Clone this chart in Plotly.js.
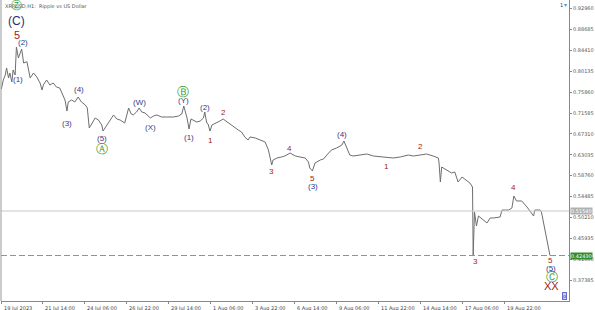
<!DOCTYPE html>
<html>
<head>
<meta charset="utf-8">
<script src="https://cdn.plot.ly/plotly-3.0.1.min.js"></script>
<style>html,body{margin:0;padding:0;background:#fff;}#chart{width:595px;height:310px;}</style>
</head>
<body>
<div id="chart"></div>
<script>
// ---- data (XRPUSD H1 closes; hours counted from 19 Jul 2023 00:00) ----
const closeHours = [0,3,6,8,11,13,16,18,21,23,26,28,31,34,39,44,49,54,59,62,64,69,74,79,84,89,95,97,100,102,107,112,117,122,128,131,134,138,143,148,153,155,161,166,171,176,181,188,194,198,201,206,210,214,219,227,232,237,244,252,262,270,275,278,283,286,289,292,298,303,308,310,313,315,318,321,328,333,338,346,354,361,366,371,376,379,387,394,402,407,409,412,414,420,427,432,440,448,455,463,468,470,474,478,486,491,496,503,511,519,522,526,531,536,547,557,567,577,587,597,608,620,628,638,648,658,666,667,669,671,679,686,691,696,702,709,714,718,719,721,724,727,732,735,740,745,750,760,763,768,773,778,781,785,793,801,808,811,813,821,823];
const closePrices = [0.7649,0.7834,0.7936,0.8079,0.7875,0.7977,0.7793,0.8038,0.7936,0.8509,0.8284,0.8345,0.8468,0.8181,0.8208,0.7875,0.7977,0.7895,0.7772,0.7629,0.7731,0.7834,0.7731,0.7772,0.7690,0.7670,0.7486,0.7424,0.7199,0.7384,0.7424,0.7384,0.7486,0.7384,0.7322,0.7261,0.6852,0.6954,0.7056,0.7015,0.6913,0.6790,0.6913,0.7015,0.7118,0.7036,0.7015,0.6954,0.7261,0.7138,0.7118,0.7179,0.7261,0.7179,0.7159,0.7056,0.7097,0.7118,0.7077,0.7077,0.7077,0.7097,0.7138,0.7302,0.7056,0.6831,0.7036,0.7015,0.6974,0.6995,0.7056,0.7179,0.6954,0.6934,0.6790,0.6913,0.6954,0.6995,0.7036,0.6954,0.6872,0.6811,0.6770,0.6668,0.6606,0.6668,0.6647,0.6606,0.6565,0.6402,0.6299,0.6095,0.6197,0.6238,0.6259,0.6279,0.6340,0.6279,0.6259,0.6238,0.6156,0.6034,0.5972,0.6136,0.6197,0.6218,0.6299,0.6402,0.6443,0.6504,0.6586,0.6463,0.6299,0.6279,0.6299,0.6320,0.6279,0.6269,0.6259,0.6238,0.6259,0.6299,0.6279,0.6299,0.6320,0.6279,0.6238,0.6136,0.5747,0.6054,0.5993,0.5931,0.5952,0.5747,0.5849,0.5788,0.5727,0.5645,0.4243,0.5133,0.4847,0.5052,0.4990,0.4970,0.4909,0.5011,0.5011,0.5031,0.5174,0.5174,0.5174,0.5215,0.5461,0.5359,0.5359,0.5236,0.5093,0.5052,0.5174,0.5174,0.5133];
// forecast line (wave 5 target)
const forecastHours = [823, 836];
const forecastPrices = [0.5133, 0.4243];
const targetLevel = 0.42430;
const currentPrice = 0.51540;

const xTickHours = [0,62,126,190,254,318,382,446,510,574,638,702,766];
const xTickText = ["19 Jul 2023","21 Jul 14:00","24 Jul 06:00","26 Jul 22:00","29 Jul 14:00","1 Aug 06:00","3 Aug 22:00","6 Aug 14:00","9 Aug 06:00","11 Aug 22:00","14 Aug 14:00","17 Aug 06:00","19 Aug 22:00"];
const yTicks = [0.92960,0.88685,0.84410,0.80135,0.75860,0.71585,0.67310,0.63035,0.58760,0.54485,0.50210,0.45935,0.41660,0.37385];

// wave labels: text, hour, price, kind
const waveText  = ["(C)","5","(2)","(1)","(4)","(3)","(5)","Ⓐ","(W)","(X)","Ⓑ","(Y)","(1)","(2)","1","2","3","4","5","(3)","(4)","1","2","3","4","5","(5)","Ⓒ","XX"];
const waveHour  = [23.4,24.4,32.6,25.9,118.4,99.6,153.9,153.9,210.3,226.6,277.3,277.3,286.5,310.4,318,338.3,412,438.8,474.5,474.5,518.7,586.2,639.1,722.9,780.2,837.2,838.1,839.1,838.7];
const wavePrice = [0.9040,0.8754,0.8597,0.7854,0.7643,0.6948,0.6627,0.6422,0.7369,0.6858,0.7594,0.7410,0.6661,0.7267,0.6606,0.7165,0.5958,0.6436,0.5823,0.5665,0.6723,0.6060,0.6471,0.4121,0.5631,0.4137,0.3982,0.3800,0.3626];
const waveKind  = ["navyBig","redBig","navy","navy","navy","navy","navy","green","navy","navy","green","navy","navy","navy","red","red","red","red","red","navy","navy","red","red","red","red","red","navy","green","redBig"];

// ---- build ----
const start = Date.UTC(2023,6,19,0,0,0);
function hToDate(h){
  const d = new Date(start + h*3600000);
  return d.toISOString().slice(0,19).replace('T',' ');
}
const styles = {
  navy:{color:'#38388a',size:8},
  navyBig:{color:'#2c2c78',size:12},
  red:{color:'#a02020',size:8},
  redBig:{color:'#a01c1c',size:11},
  green:{color:'#2f9a2f',size:12}
};

const traces = [
  {x: closeHours.map(hToDate), y: closePrices, type:'scatter', mode:'lines',
   line:{color:'#6e6e6e', width:1}, hoverinfo:'skip'},
  {x: forecastHours.map(hToDate), y: forecastPrices, type:'scatter', mode:'lines',
   line:{color:'#6e6e6e', width:1}, hoverinfo:'skip'}
];

const annotations = waveText.map((t,i)=>({
  x: hToDate(waveHour[i]), y: wavePrice[i], text: t, showarrow:false,
  xanchor:'center', yanchor:'middle',
  font:{family:'Liberation Sans, Arial, DejaVu Sans', size:styles[waveKind[i]].size, color:styles[waveKind[i]].color}
}));
// x-axis labels, drawn to the right of each tick as in the source chart
xTickHours.forEach((h,i)=>{
  annotations.push({x: hToDate(h), xref:'x', yref:'paper', y:0, xanchor:'left', yanchor:'top',
    xshift: 0.5, yshift:-1.5, text: xTickText[i], showarrow:false,
    font:{family:'DejaVu Sans', size:5, color:'#444'}});
});
// title
annotations.push({xref:'paper', yref:'paper', x:0.004, y:1, xanchor:'left', yanchor:'top', yshift:-1,
  text:'XRPUSD,H1:  Ripple vs US Dollar', showarrow:false,
  font:{family:'DejaVu Sans', size:5, color:'#555'}});
annotations.push({x: hToDate(23.4), y: 0.9350, text:'Ⓩ', showarrow:false, xanchor:'center', yanchor:'middle',
  font:{family:'DejaVu Sans', size:11, color:'#2f9a2f'}});
// price boxes on the axis
annotations.push({xref:'paper', x:1, xanchor:'left', xshift:1, y: currentPrice, yanchor:'middle',
  text: currentPrice.toFixed(5), showarrow:false, bgcolor:'#b0b0b0', borderpad:0,
  font:{family:'DejaVu Sans', size:5, color:'#fff'}});
annotations.push({xref:'paper', x:1, xanchor:'left', xshift:1, y: targetLevel, yanchor:'middle',
  text: targetLevel.toFixed(5), showarrow:false, bgcolor:'#2e8b2e', borderpad:0,
  font:{family:'DejaVu Sans', size:5, color:'#fff'}});
// small corner markers
annotations.push({xref:'paper', yref:'paper', x:0.986, y:0.985, xanchor:'center', yanchor:'middle',
  text:'1', showarrow:false, font:{family:'DejaVu Sans', size:5, color:'#333'}});
annotations.push({xref:'paper', yref:'paper', x:0.9935, y:0.985, xanchor:'center', yanchor:'middle',
  text:'▾', showarrow:false, font:{family:'DejaVu Sans', size:6, color:'#5a8fd8'}});
annotations.push({xref:'paper', yref:'paper', x:0.9925, y:0.016, xanchor:'center', yanchor:'middle',
  text:'o', showarrow:false, bgcolor:'#c8cdf0', bordercolor:'#6a6ad0', borderwidth:1, borderpad:0,
  font:{family:'DejaVu Sans', size:5, color:'#3030a0'}});

const shapes = [
  {type:'line', xref:'paper', x0:0, x1:1, yref:'y', y0:currentPrice, y1:currentPrice,
   line:{color:'#c9c9c9', width:1}},
  {type:'line', xref:'paper', x0:0, x1:1, yref:'y', y0:targetLevel, y1:targetLevel,
   line:{color:'#5cb85c', width:1, dash:'6px,3px'}},
  {type:'line', xref:'paper', yref:'paper', x0:0, x1:0, y0:0, y1:1, line:{color:'#999', width:1}}
];

const layout = {
  width:595, height:310,
  margin:{l:1, r:26, t:0, b:9, pad:0},
  paper_bgcolor:'#ffffff', plot_bgcolor:'#ffffff',
  showlegend:false,
  xaxis:{type:'date', range:[hToDate(-0.5), hToDate(865)],
    tickmode:'array', tickvals: xTickHours.map(hToDate), showticklabels:false,
    showgrid:false, zeroline:false, showline:true, linecolor:'#888', linewidth:1,
    ticks:'outside', ticklen:2, tickcolor:'#888', fixedrange:true},
  yaxis:{side:'right', range:[0.3313, 0.9470], tickmode:'array', tickvals:yTicks,
    ticktext: yTicks.map(v=>v.toFixed(5)),
    showgrid:false, zeroline:false, showline:true, linecolor:'#888', linewidth:1,
    ticks:'outside', ticklen:2, tickcolor:'#888',
    tickfont:{family:'DejaVu Sans', size:5, color:'#555'}, fixedrange:true},
  annotations: annotations,
  shapes: shapes
};

Plotly.newPlot('chart', traces, layout, {displayModeBar:false, staticPlot:true});
</script>
</body>
</html>
